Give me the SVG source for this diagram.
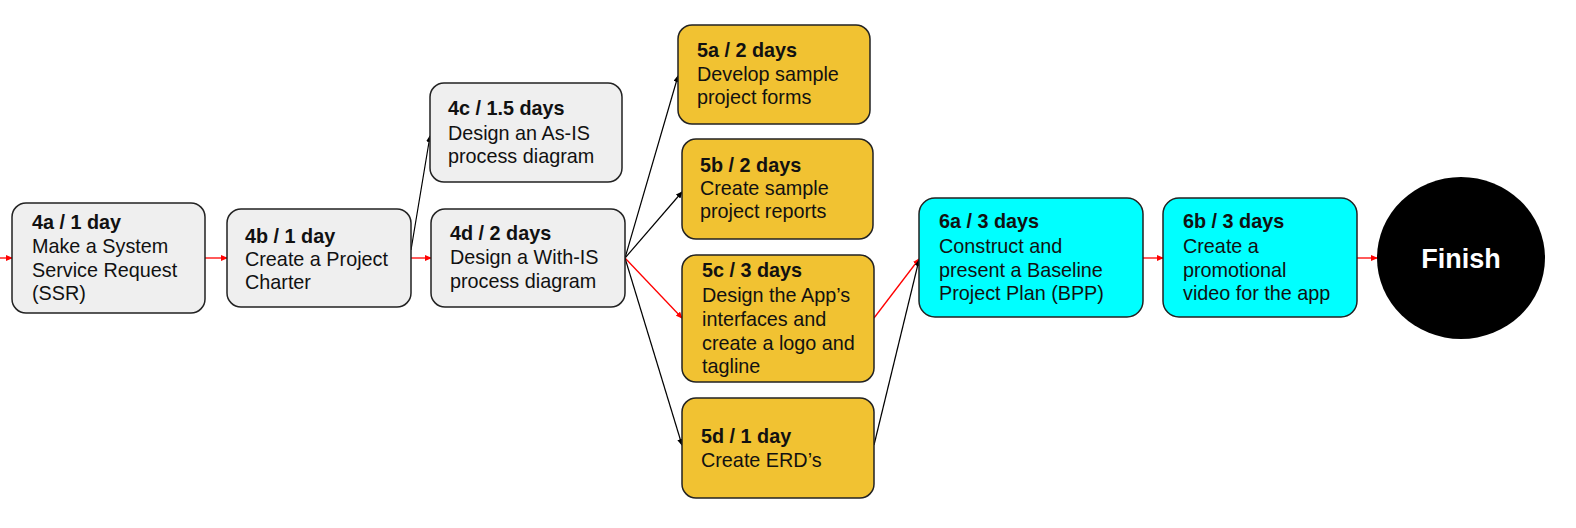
<svg xmlns="http://www.w3.org/2000/svg" width="1576" height="528" viewBox="0 0 1576 528">
<style>
.box{stroke:#222;stroke-width:1.5}
.g{fill:#efefef}
.y{fill:#f1c232}
.c{fill:#00ffff}
.t{font-family:"Liberation Sans",Arial,sans-serif;font-size:19.8px;fill:#111}
.b{font-weight:bold}
.red{stroke:#ff0000;stroke-width:1.3;fill:none;marker-end:url(#ar)}
.blk{stroke:#000;stroke-width:1.2;fill:none;marker-end:url(#ab)}
.fin{font-family:"Liberation Sans",Arial,sans-serif;font-size:27px;font-weight:bold;fill:#fff;text-anchor:middle}
</style>
<defs>
<marker id="ar" markerWidth="7" markerHeight="6" refX="6" refY="3" orient="auto" markerUnits="userSpaceOnUse"><path d="M0,0 L7,3 L0,6 z" fill="#ff0000"/></marker>
<marker id="ab" markerWidth="7" markerHeight="6" refX="6" refY="3" orient="auto" markerUnits="userSpaceOnUse"><path d="M0,0 L7,3 L0,6 z" fill="#000"/></marker>
</defs>
<rect width="1576" height="528" fill="#fff"/>
<g id="connectors">
<line class="red" x1="0" y1="258" x2="12" y2="258"/>
<line class="red" x1="205" y1="258" x2="227" y2="258"/>
<line class="blk" x1="411" y1="250" x2="430" y2="136"/>
<line class="red" x1="411" y1="258" x2="431" y2="258"/>
<line class="blk" x1="625" y1="258" x2="678" y2="76"/>
<line class="blk" x1="625" y1="258" x2="682" y2="192"/>
<line class="red" x1="625" y1="258" x2="682" y2="318"/>
<line class="blk" x1="625" y1="258" x2="682" y2="445"/>
<line class="red" x1="874" y1="318" x2="919" y2="259"/>
<line class="blk" x1="874" y1="445" x2="919" y2="260"/>
<line class="red" x1="1143" y1="258" x2="1163" y2="258"/>
<line class="red" x1="1357" y1="258" x2="1377" y2="258"/>
</g>
<g id="n4a">
<rect class="box g" x="12" y="203" width="193" height="110" rx="14"/>
<text class="t"><tspan class="b" x="32" y="229">4a / 1 day</tspan><tspan x="32" y="253">Make a System</tspan><tspan x="32" y="277">Service Request</tspan><tspan x="32" y="300">(SSR)</tspan></text>
</g>
<g id="n4b">
<rect class="box g" x="227" y="209" width="184" height="98" rx="14"/>
<text class="t"><tspan class="b" x="245" y="243">4b / 1 day</tspan><tspan x="245" y="266">Create a Project</tspan><tspan x="245" y="289">Charter</tspan></text>
</g>
<g id="n4c">
<rect class="box g" x="430" y="83" width="192" height="99" rx="14"/>
<text class="t"><tspan class="b" x="448" y="115">4c / 1.5 days</tspan><tspan x="448" y="140">Design an As-IS</tspan><tspan x="448" y="163">process diagram</tspan></text>
</g>
<g id="n4d">
<rect class="box g" x="431" y="209" width="194" height="98" rx="14"/>
<text class="t"><tspan class="b" x="450" y="240">4d / 2 days</tspan><tspan x="450" y="264">Design a With-IS</tspan><tspan x="450" y="288">process diagram</tspan></text>
</g>
<g id="n5a">
<rect class="box y" x="678" y="25" width="192" height="99" rx="14"/>
<text class="t"><tspan class="b" x="697" y="57">5a / 2 days</tspan><tspan x="697" y="81">Develop sample</tspan><tspan x="697" y="104">project forms</tspan></text>
</g>
<g id="n5b">
<rect class="box y" x="682" y="139" width="191" height="100" rx="14"/>
<text class="t"><tspan class="b" x="700" y="172">5b / 2 days</tspan><tspan x="700" y="195">Create sample</tspan><tspan x="700" y="218">project reports</tspan></text>
</g>
<g id="n5c">
<rect class="box y" x="682" y="255" width="192" height="127" rx="14"/>
<text class="t"><tspan class="b" x="702" y="277">5c / 3 days</tspan><tspan x="702" y="302">Design the App’s</tspan><tspan x="702" y="326">interfaces and</tspan><tspan x="702" y="350">create a logo and</tspan><tspan x="702" y="373">tagline</tspan></text>
</g>
<g id="n5d">
<rect class="box y" x="682" y="398" width="192" height="100" rx="14"/>
<text class="t"><tspan class="b" x="701" y="443">5d / 1 day</tspan><tspan x="701" y="467">Create ERD’s</tspan></text>
</g>
<g id="n6a">
<rect class="box c" x="919" y="198" width="224" height="119" rx="16"/>
<text class="t"><tspan class="b" x="939" y="228">6a / 3 days</tspan><tspan x="939" y="253">Construct and</tspan><tspan x="939" y="277">present a Baseline</tspan><tspan x="939" y="300">Project Plan (BPP)</tspan></text>
</g>
<g id="n6b">
<rect class="box c" x="1163" y="198" width="194" height="119" rx="16"/>
<text class="t"><tspan class="b" x="1183" y="228">6b / 3 days</tspan><tspan x="1183" y="253">Create a</tspan><tspan x="1183" y="277">promotional</tspan><tspan x="1183" y="300">video for the app</tspan></text>
</g>
<g id="finish">
<ellipse cx="1461" cy="258" rx="84" ry="81" fill="#000"/>
<text class="fin" x="1461" y="268">Finish</text>
</g>
</svg>
